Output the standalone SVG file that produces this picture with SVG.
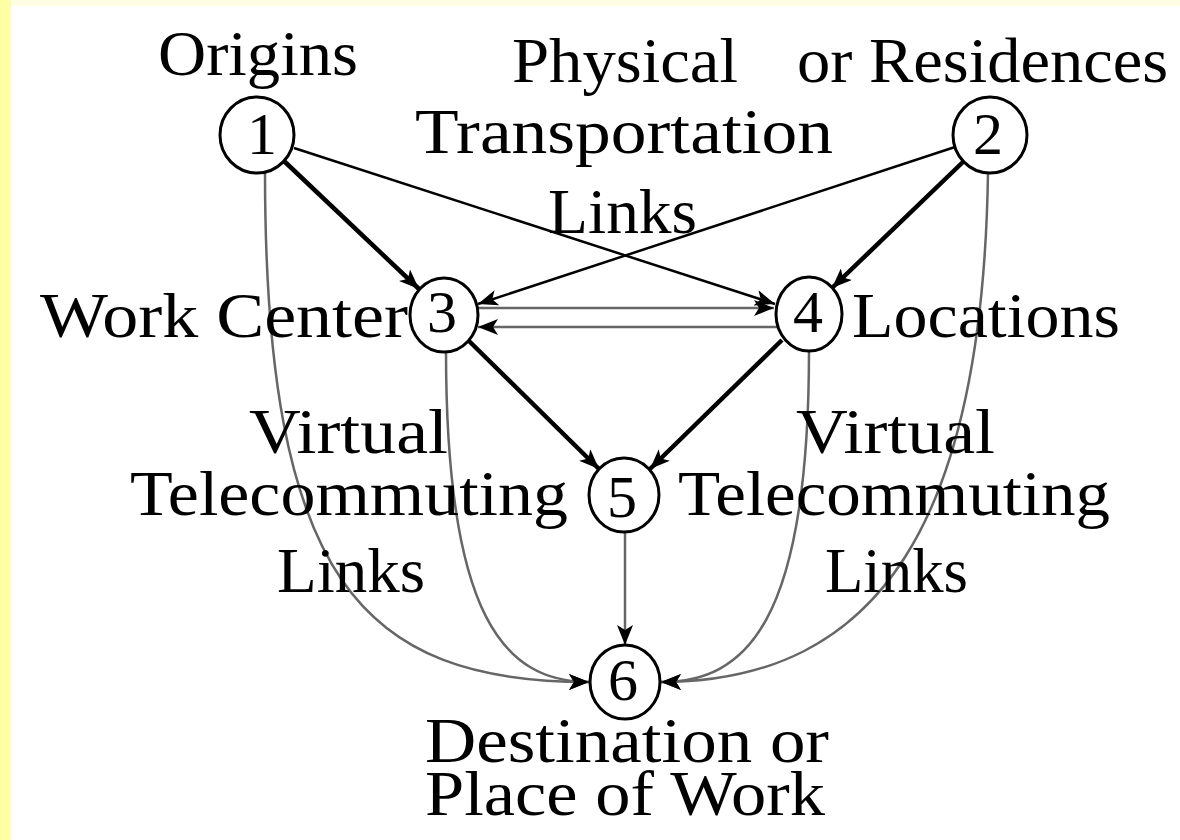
<svg xmlns="http://www.w3.org/2000/svg" width="1180" height="840" viewBox="0 0 1180 840">
<style>
  .t { font-family: "Liberation Serif", "Times New Roman", serif; font-size: 64px; fill: #000; }
  .d { font-family: "Liberation Serif", "Times New Roman", serif; font-size: 60px; fill: #000; text-anchor: middle; }
  .node { fill: #fff; stroke: #000; stroke-width: 3; }
  .thick { stroke: #000; stroke-width: 4.5; fill: none; marker-end: url(#arr); }
  .thin { stroke: #000; stroke-width: 2.5; fill: none; marker-end: url(#arr); }
  .grey { stroke: #666; stroke-width: 2.5; fill: none; marker-end: url(#arr); }
</style>
<defs>
  <marker id="arr" viewBox="0 0 20 16" refX="20" refY="8" markerWidth="20" markerHeight="16" markerUnits="userSpaceOnUse" orient="auto">
    <path d="M0,0 L20,8 L0,16 L5,8 z" fill="#000"/>
  </marker>
</defs>
<rect x="0" y="0" width="1180" height="840" fill="#fff"/>
<rect x="0" y="0" width="1180" height="6" fill="#FFFDE4"/>
<rect x="0" y="0" width="11" height="840" fill="#FFFFA6"/>

<g id="connectors">
  <line class="thick" x1="284" y1="161" x2="419" y2="289"/>
  <line class="thin" x1="294" y1="148" x2="775" y2="304"/>
  <line class="thin" x1="955" y1="147" x2="478" y2="304"/>
  <line class="thick" x1="964" y1="161" x2="832" y2="288"/>
  <line class="grey" x1="478" y1="308" x2="774" y2="308"/>
  <line class="grey" x1="777" y1="327" x2="478" y2="327"/>
  <line class="thick" x1="469" y1="341" x2="599" y2="469"/>
  <line class="thick" x1="782" y1="340" x2="650" y2="469"/>
  <line class="grey" x1="625" y1="532" x2="625" y2="645"/>
  <path class="grey" d="M265,172 C265,580 362,682 589,682"/>
  <path class="grey" d="M446,351 C446,616 504,682 589,682"/>
  <path class="grey" d="M809,350 C809,625 745,682 661,682"/>
  <path class="grey" d="M988,172 C983,520 880,682 661,682"/>
</g>

<g id="node1">
  <ellipse class="node" cx="257" cy="135" rx="37" ry="38"/>
  <text class="d" x="262" y="154">1</text>
  <text class="t" x="158" y="75" textLength="200" lengthAdjust="spacingAndGlyphs">Origins</text>
</g>
<g id="node2">
  <ellipse class="node" cx="990" cy="135" rx="37" ry="38"/>
  <text class="d" x="988" y="154">2</text>
  <text class="t" x="797" y="82" textLength="371" lengthAdjust="spacingAndGlyphs">or Residences</text>
</g>
<g id="node3">
  <ellipse class="node" cx="444" cy="315" rx="34" ry="37"/>
  <text class="d" x="442" y="332">3</text>
  <text class="t" x="40" y="337" textLength="368" lengthAdjust="spacingAndGlyphs">Work Center</text>
</g>
<g id="node4">
  <ellipse class="node" cx="809" cy="314" rx="33" ry="37"/>
  <text class="d" x="808" y="332">4</text>
  <text class="t" x="852" y="337" textLength="268" lengthAdjust="spacingAndGlyphs">Locations</text>
</g>
<g id="node5">
  <ellipse class="node" cx="624" cy="495" rx="35" ry="37"/>
  <text class="d" x="622" y="517">5</text>
</g>
<g id="node6">
  <ellipse class="node" cx="625" cy="682" rx="35" ry="37"/>
  <text class="d" x="623" y="700">6</text>
  <text class="t" x="425" y="762" textLength="404" lengthAdjust="spacingAndGlyphs">Destination or</text>
  <text class="t" x="425" y="815" textLength="400" lengthAdjust="spacingAndGlyphs">Place of Work</text>
</g>

<g id="labels">
  <text class="t" x="512" y="82" textLength="226" lengthAdjust="spacingAndGlyphs">Physical</text>
  <text class="t" x="415" y="153" textLength="418" lengthAdjust="spacingAndGlyphs">Transportation</text>
  <text class="t" x="548" y="233" textLength="149" lengthAdjust="spacingAndGlyphs">Links</text>
  <text class="t" x="249" y="453" textLength="199" lengthAdjust="spacingAndGlyphs">Virtual</text>
  <text class="t" x="130" y="515" textLength="438" lengthAdjust="spacingAndGlyphs">Telecommuting</text>
  <text class="t" x="277" y="592" textLength="148" lengthAdjust="spacingAndGlyphs">Links</text>
  <text class="t" x="796" y="453" textLength="199" lengthAdjust="spacingAndGlyphs">Virtual</text>
  <text class="t" x="678" y="515" textLength="432" lengthAdjust="spacingAndGlyphs">Telecommuting</text>
  <text class="t" x="825" y="592" textLength="143" lengthAdjust="spacingAndGlyphs">Links</text>
</g>
</svg>
